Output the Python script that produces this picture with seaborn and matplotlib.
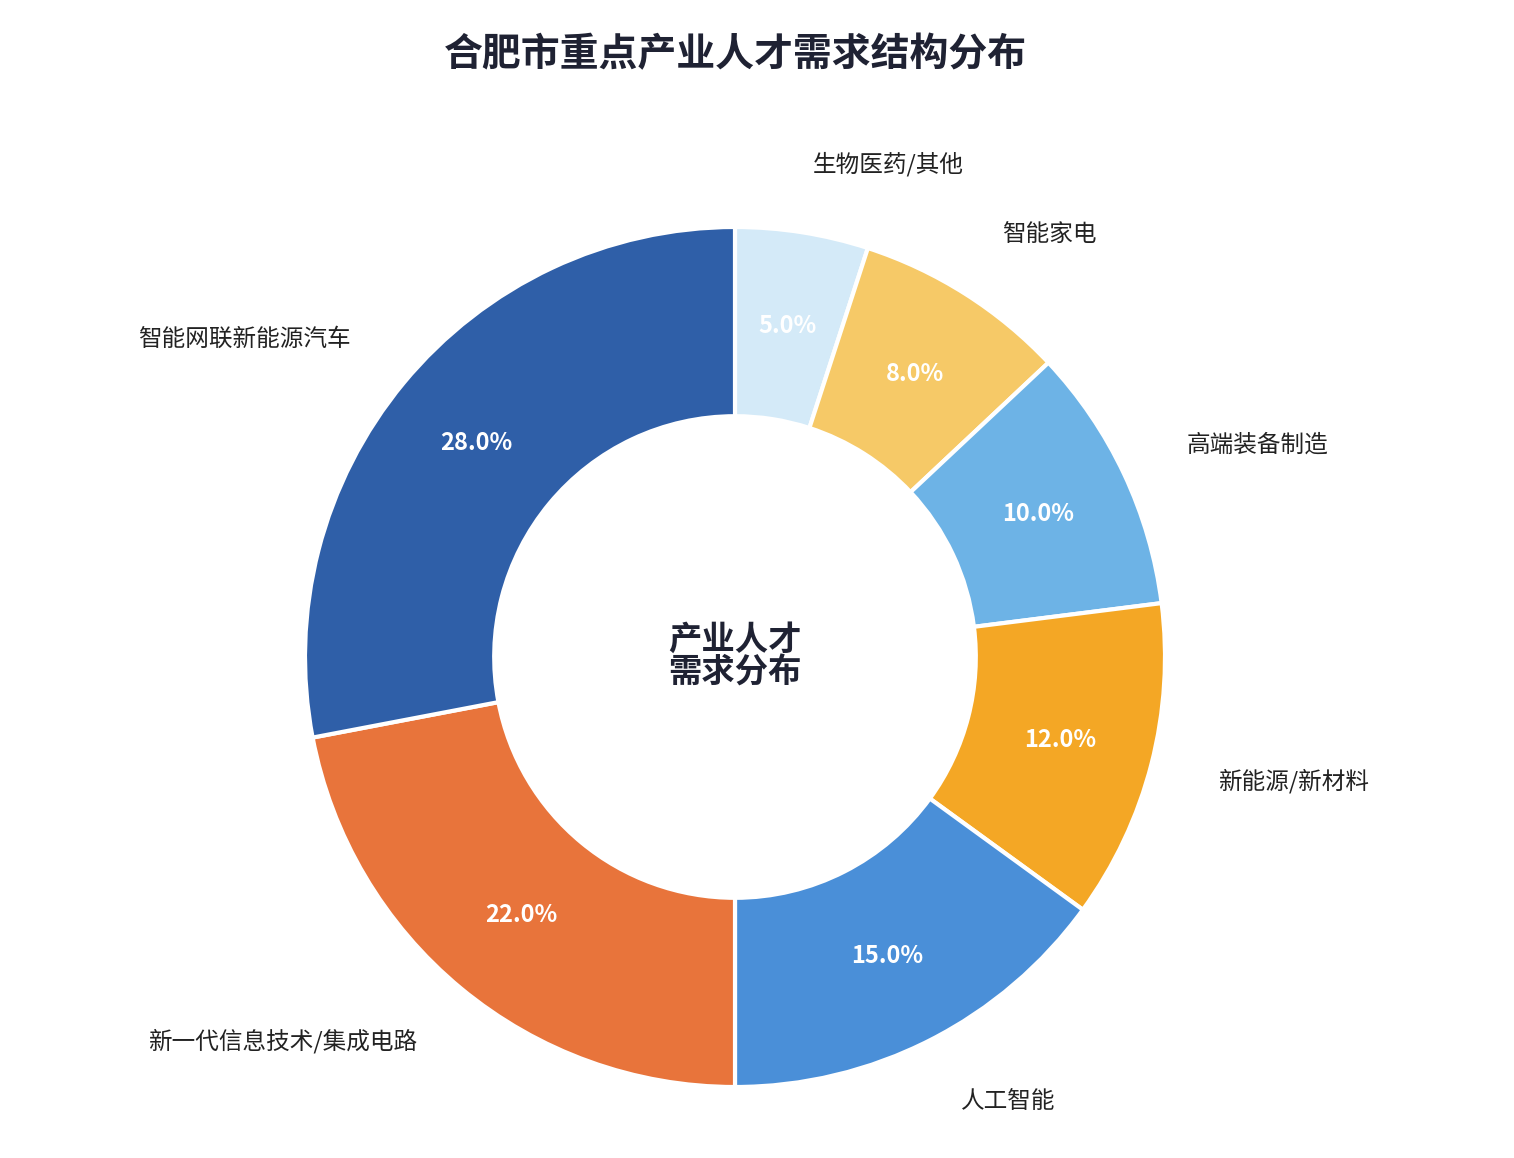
import matplotlib
matplotlib.use("Agg")
import matplotlib.pyplot as plt
import seaborn as sns

sns.set_theme(style="white")
plt.rcParams['font.family'] = ['Noto Sans CJK SC', 'DejaVu Sans']

categories = ["生物医药/其他", "智能家电", "高端装备制造", "新能源/新材料", "人工智能",
              "新一代信息技术/集成电路", "智能网联新能源汽车"]
values = [5.0, 8.0, 10.0, 12.0, 15.0, 22.0, 28.0]
colors = ["#D4EAF8", "#F6C967", "#6DB3E6", "#F4A725", "#4A8FD8", "#E8743B", "#2F5FA8"]

fig = plt.figure(figsize=(15.14, 11.58), dpi=100)
ax = fig.add_axes([0, 0, 1, 1])
wedges, texts, autotexts = ax.pie(
    values, labels=categories, colors=colors, startangle=90, counterclock=False,
    autopct="%.1f%%", pctdistance=0.78, labeldistance=1.16,
    wedgeprops=dict(width=0.44, edgecolor="white", linewidth=3),
    textprops=dict(fontsize=17, color="#222222"))
for t in autotexts:
    t.set_color("white")
    t.set_fontsize(17)
    t.set_fontweight("bold")
ax.set_xlim(-735/430, 779/430)
ax.set_ylim(-(1158-657)/430, 657/430)
ax.set_aspect("equal")
ax.axis("off")
ax.text(0, 0, "产业人才\n需求分布", ha="center", va="center", fontsize=24,
        fontweight="bold", color="#1f2233", linespacing=1.0)
fig.text(735/1514, 1-55/1158, "合肥市重点产业人才需求结构分布", ha="center", va="center",
         fontsize=28, fontweight="bold", color="#1f2233")
fig.savefig("out.png", dpi=100, facecolor="white")
